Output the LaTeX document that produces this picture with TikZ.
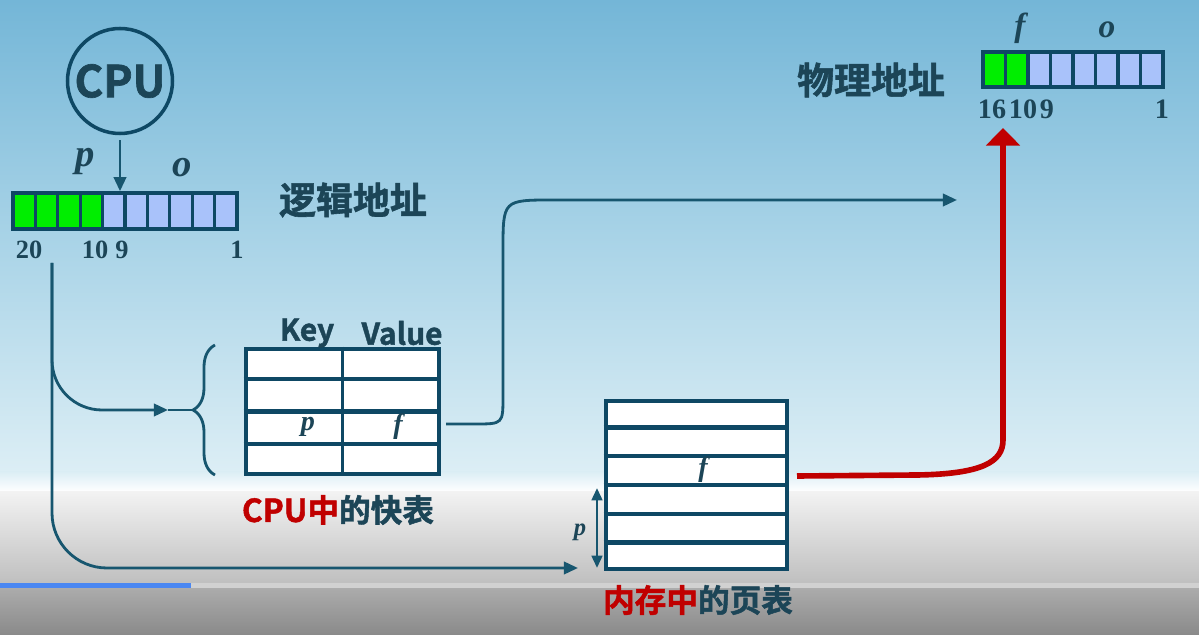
\documentclass[tikz,border=0pt]{standalone}
\usepackage{fontspec}
\setmainfont{Liberation Serif}
\newfontfamily\cjk{Noto Sans CJK SC}[BoldFont={Noto Sans CJK SC Bold}, BoldFeatures={FakeBold=1.5}]
\usetikzlibrary{arrows.meta,decorations.pathreplacing,calc,positioning}

\definecolor{ink}{HTML}{1C4557}
\definecolor{wire}{HTML}{17566F}
\definecolor{frame}{HTML}{0E4864}
\definecolor{hired}{HTML}{C00000}
\definecolor{pbit}{HTML}{00EE00}
\definecolor{obit}{HTML}{A9C2FA}
\definecolor{bgtop}{HTML}{74B6D7}
\definecolor{bgmid}{HTML}{A8D3E7}
\definecolor{bglow}{HTML}{DCEEF5}
\definecolor{progblue}{HTML}{4A87F2}

\tikzset{
  conn/.style={line width=1.6pt, draw=wire},
  tip/.style={-{Triangle[length=8pt,width=7pt]}},
  bothtips/.style={{Triangle[length=7pt,width=6pt]}-{Triangle[length=7pt,width=6pt]}},
  redconn/.style={line width=3.2pt, draw=hired, -{Triangle[length=10pt,width=19pt]}},
  cpucirc/.style={circle, draw=frame, line width=2pt, minimum size=21mm, inner sep=0pt,
    font=\cjk\bfseries\fontsize{25}{28}\selectfont, text=ink},
  regbox/.style={draw=frame, line width=2pt, inner sep=0pt},
  regline/.style={draw=frame, line width=1.8pt},
  tabbox/.style={draw=frame, line width=2.8pt, fill=white, inner sep=0pt},
  tabline/.style={draw=frame, line width=2.6pt},
  coldiv/.style={draw=frame, line width=1.2pt},
  cntxt/.style={font=\cjk\bfseries\fontsize{21}{24}\selectfont, text=ink},
  captxt/.style={font=\cjk\bfseries\fontsize{18}{21}\selectfont, text=ink},
  keytxt/.style={font=\cjk\bfseries\fontsize{17}{20}\selectfont, text=ink},
  vartxt/.style={font=\bfseries\itshape\fontsize{22}{24}\selectfont, text=ink},
  cellvar/.style={font=\bfseries\itshape\fontsize{16}{18}\selectfont, text=ink},
  bittxt/.style={font=\bfseries\fontsize{15}{17}\selectfont, text=ink},
}

\begin{document}
\begin{tikzpicture}[x=0.2mm,y=-0.2mm]
\useasboundingbox (0,0) rectangle (1199,635);
% backdrop
\shade[top color=bgtop, bottom color=bglow, middle color=bgmid] (0,0) rectangle (1199,472);
\shade[top color=bglow, bottom color=white] (0,472) rectangle (1199,492);
\shade[top color=black!5, bottom color=black!25] (0,492) rectangle (1199,583);
\fill[black!18] (0,583) rectangle (1199,589);
\fill[progblue] (0,583) rectangle (191,589);
\shade[top color=black!33, bottom color=black!46] (0,589) rectangle (1199,635);

% cpu and logical address
\node[cpucirc] (cpu) at (120,81) {CPU};
\foreach \i in {0,...,3} \fill[pbit] ({13+22.4*\i},193) rectangle ++(22.4,36);
\foreach \i in {4,...,9} \fill[obit] ({13+22.4*\i},193) rectangle ++(22.4,36);
\foreach \i in {1,...,9} \draw[regline] ({13+22.4*\i},193) -- ++(0,36);
\node[regbox, minimum width=44.8mm, minimum height=7.2mm] (laddr) at (125,211) {};
\node[vartxt] (lp) at (85,162) {p};
\node[vartxt] (lo) at (182,168) {o};
\node[bittxt] (l20) at (29,250) {20};
\node[bittxt] (l10) at (95,250) {10};
\node[bittxt] (l9) at (122,250) {9};
\node[bittxt] (l1) at (237,250) {1};
\node[cntxt] (lname) at (353,200) {逻辑地址};
\draw[conn,tip] ($(cpu.south)+(0,5)$) -- (cpu.south |- laddr.north);

% tlb
\node[tabbox, minimum width=38.6mm, minimum height=25mm] (tlb) at (342.5,411.5) {};
\foreach \k in {1,2,3}
  \draw[tabline] ($(tlb.north west)!\k/4!(tlb.south west)$) -- ($(tlb.north east)!\k/4!(tlb.south east)$);
\draw[coldiv] (tlb.north) -- (tlb.south);
\node[keytxt] (key) at (307,333) {Key};
\node[keytxt] (val) at (402,333) {Value};
\node[cellvar] (tp) at (308,427) {p};
\node[cellvar] (tf) at (398,427) {f};
\node[captxt] (tlbcap) at (338,510) {\textcolor{hired}{CPU中}的快表};
\coordinate (bracetip) at (193,410);
\draw[conn, decorate, decoration={brace, amplitude=4.4mm}] (215,475) -- (215,345);

% page table
\node[tabbox, minimum width=36.2mm, minimum height=33.6mm] (ptab) at (696.5,485) {};
\foreach \k in {1,...,5}
  \draw[tabline] ($(ptab.north west)!\k/6!(ptab.south west)$) -- ($(ptab.north east)!\k/6!(ptab.south east)$);
\node[cellvar] (pf) at (703,470) {f};
\coordinate (ptop) at (597,488);
\coordinate (pbot) at (597,568);
\draw[conn,bothtips] (ptop) -- (pbot);
\node[cellvar, font=\bfseries\itshape\fontsize{14}{16}\selectfont] (pp) at (580,532) {p};
\node[captxt] (ptcap) at (698,600) {\textcolor{hired}{内存中}的页表};

% physical address
\foreach \i in {0,1} \fill[pbit] ({983+22.5*\i},52) rectangle ++(22.5,35);
\foreach \i in {2,...,7} \fill[obit] ({983+22.5*\i},52) rectangle ++(22.5,35);
\foreach \i in {1,...,7} \draw[regline] ({983+22.5*\i},52) -- ++(0,35);
\node[regbox, minimum width=36mm, minimum height=7mm] (paddr) at (1073,69.5) {};
\node[vartxt, font=\bfseries\itshape\fontsize{19}{21}\selectfont] (pf2) at (1020,28) {f};
\node[vartxt, font=\bfseries\itshape\fontsize{19}{21}\selectfont] (po) at (1107,30) {o};
\node[bittxt, font=\bfseries\fontsize{16}{18}\selectfont] (p16) at (992,109) {16};
\node[bittxt, font=\bfseries\fontsize{16}{18}\selectfont] (p10) at (1023,109) {10};
\node[bittxt, font=\bfseries\fontsize{16}{18}\selectfont] (p9) at (1047,109) {9};
\node[bittxt, font=\bfseries\fontsize{16}{18}\selectfont] (p1) at (1162,109) {1};
\node[cntxt] (pname) at (871,80) {物理地址};

% connectors
\coordinate (split) at (52,263);
\coordinate (tlbarrow) at (168,410);
\coordinate (ptarrow) at (578,568);
\coordinate (tlbout) at (446,424);
\coordinate (paddrin) at (957,200);
\coordinate (ptout) at (797,476);
\coordinate (paddrout) at (1003,128);
\draw[conn,tip,rounded corners=10mm] (split) |- (tlbarrow);
\draw[conn] (tlbarrow) -- (bracetip);
\draw[conn,tip,rounded corners=11mm] (split) |- (ptarrow);
\draw[conn,tip] (tlbout) -- (475,424) .. controls (503,424) .. (503,396) -- (503,250)
  .. controls (503,200) .. (553,200) -- (paddrin);
\draw[redconn] (ptout) -- (917,475) .. controls (982,474) and (1003,462) .. (1003,440) -- (paddrout);
\end{tikzpicture}
\end{document}
